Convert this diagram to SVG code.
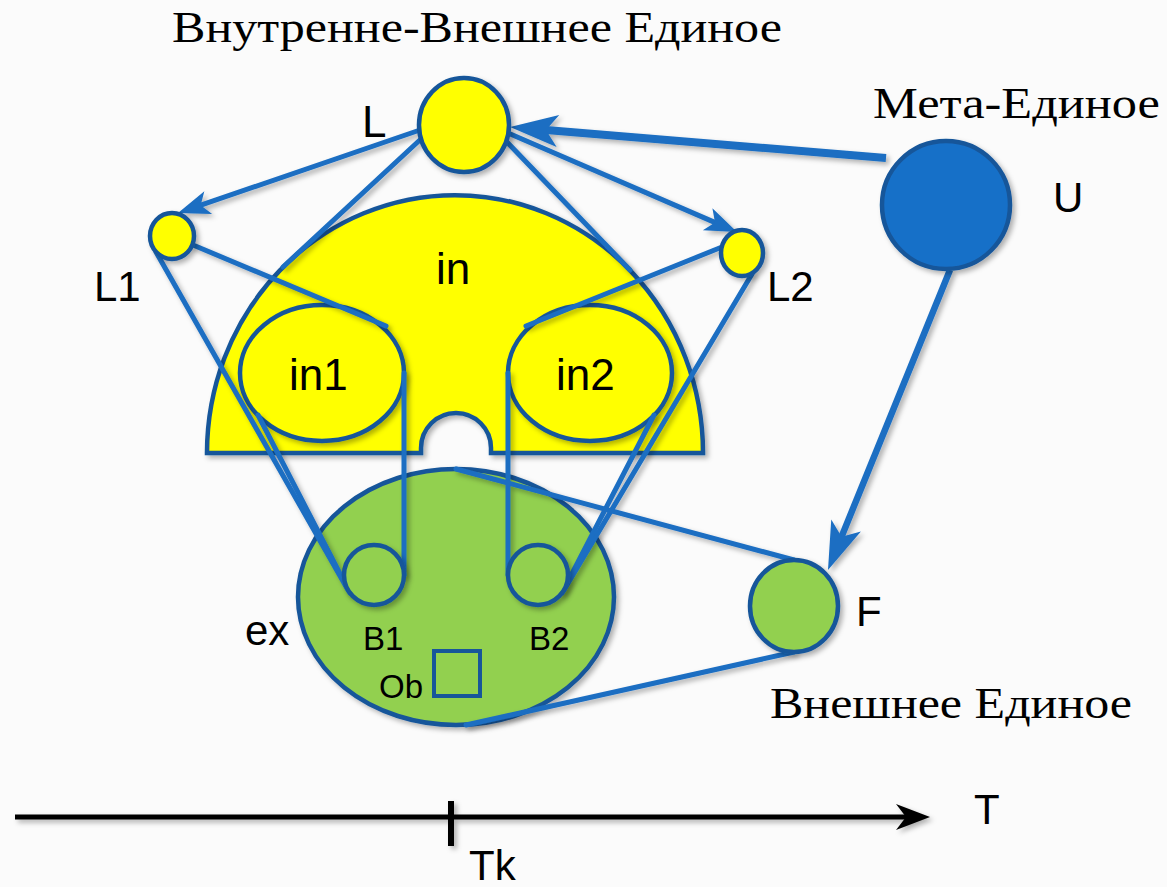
<svg xmlns="http://www.w3.org/2000/svg" width="1167" height="887" viewBox="0 0 1167 887">
<defs>
<style>
.node{stroke:#17569A;stroke-width:4.5}
.yel{fill:#FFFF00}
.grn{fill:#92D050}
.con{stroke:#1B6EC2;stroke-width:5;fill:none;stroke-linecap:round}
.thick{stroke-width:8;stroke-linecap:butt}
.med{stroke-width:6.5;stroke-linecap:butt}
.lbl{font-family:"Liberation Sans",Arial,sans-serif;fill:#000}
.ser{font-family:"Liberation Serif","Times New Roman",serif;fill:#000;font-size:44px}
</style>
<filter id="sh" filterUnits="userSpaceOnUse" x="0" y="0" width="1167" height="887">
<feDropShadow dx="3" dy="3" stdDeviation="2.5" flood-color="#000" flood-opacity="0.3"/>
</filter>
<marker id="ah" viewBox="-34 -14 36 28" refX="-18" refY="0" markerWidth="36" markerHeight="28" markerUnits="userSpaceOnUse" orient="auto">
<path d="M0,0 L-32,-12 L-24,0 L-32,12 Z" fill="#1B6EC2"/>
</marker>
<marker id="ahb" viewBox="-50 -18 52 36" refX="-30" refY="0" markerWidth="52" markerHeight="36" markerUnits="userSpaceOnUse" orient="auto">
<path d="M0,0 L-48,-16 L-36,0 L-48,16 Z" fill="#1B6EC2"/>
</marker>
<marker id="ak" viewBox="-36 -15 38 30" refX="-16" refY="0" markerWidth="38" markerHeight="30" markerUnits="userSpaceOnUse" orient="auto">
<path d="M0,0 L-34,-13 L-24,0 L-34,13 Z" fill="#000"/>
</marker>
</defs>
<rect width="1167" height="887" fill="#FBFBFB"/>

<g id="in" filter="url(#sh)">
<path class="node yel" d="M207,453 A248,258 0 0 1 703,453 L491,453 L491,448 A35,35 0 0 0 421,448 L421,453 Z"/>
</g>
<g id="in1" filter="url(#sh)"><ellipse class="node yel" cx="322" cy="373" rx="82" ry="68"/></g>
<g id="in2" filter="url(#sh)"><ellipse class="node yel" cx="590" cy="373" rx="82" ry="68"/></g>
<g id="ex" filter="url(#sh)"><ellipse class="node grn" cx="456" cy="597" rx="158" ry="128"/></g>
<g id="Ob"><rect x="434" y="651" width="46" height="45" fill="none" stroke="#17569A" stroke-width="4"/></g>

<g id="connectors" filter="url(#sh)">
<line class="con" x1="422" y1="138" x2="283" y2="267"/>
<line class="con" x1="505" y1="140" x2="630" y2="270"/>
<line class="con" x1="193" y1="245" x2="386" y2="326"/>
<line class="con" x1="156" y1="252" x2="348" y2="590"/>
<line class="con" x1="258" y1="415" x2="350" y2="593"/>
<line class="con" x1="404" y1="373" x2="404" y2="575"/>
<line class="con" x1="722" y1="247" x2="526" y2="326"/>
<line class="con" x1="752" y1="274" x2="564" y2="590"/>
<line class="con" x1="654" y1="415" x2="562" y2="593"/>
<line class="con" x1="508" y1="373" x2="508" y2="575"/>
<line class="con" x1="456" y1="469" x2="794" y2="560"/>
<line class="con" x1="466" y1="725" x2="794" y2="652"/>
<line class="con" x1="420" y1="130" x2="195" y2="207.2" marker-end="url(#ah)"/>
<line class="con" x1="508" y1="133" x2="720.5" y2="224.9" marker-end="url(#ah)"/>
<line class="con thick" x1="886" y1="158" x2="540" y2="129.5" marker-end="url(#ahb)"/>
<line class="con med" x1="950" y1="270" x2="839.3" y2="542.2" marker-end="url(#ahb)"/>
</g>

<g id="B1" filter="url(#sh)"><circle class="node grn" cx="374" cy="575" r="30"/></g>
<g id="B2" filter="url(#sh)"><circle class="node grn" cx="538" cy="575" r="30"/></g>
<g id="F" filter="url(#sh)"><ellipse class="node grn" cx="794" cy="606" rx="44" ry="46"/></g>
<g id="L" filter="url(#sh)"><ellipse class="node yel" cx="464" cy="125" rx="45" ry="47"/></g>
<g id="L1" filter="url(#sh)"><ellipse class="node yel" cx="172" cy="236" rx="22" ry="23"/></g>
<g id="L2" filter="url(#sh)"><ellipse class="node yel" cx="742" cy="253" rx="21" ry="23"/></g>
<g id="U" filter="url(#sh)"><circle cx="946" cy="205" r="64" fill="#1470C8" stroke="#17569A" stroke-width="4.5"/></g>

<g id="timeline" filter="url(#sh)">
<line x1="15" y1="817" x2="914" y2="817" stroke="#000" stroke-width="5" marker-end="url(#ak)"/>
<line x1="451" y1="801" x2="451" y2="846" stroke="#000" stroke-width="6"/>
</g>

<g id="labels">
<text class="ser" x="172" y="42" textLength="610" lengthAdjust="spacingAndGlyphs">Внутренне-Внешнее Единое</text>
<text class="ser" x="873" y="118" textLength="287" lengthAdjust="spacingAndGlyphs">Мета-Единое</text>
<text class="ser" x="770" y="718" textLength="362" lengthAdjust="spacingAndGlyphs">Внешнее Единое</text>
<text class="lbl" x="362" y="137" font-size="44">L</text>
<text class="lbl" x="94" y="301" font-size="42">L1</text>
<text class="lbl" x="767" y="301" font-size="42">L2</text>
<text class="lbl" x="1053" y="212" font-size="42">U</text>
<text class="lbl" x="436" y="284" font-size="44">in</text>
<text class="lbl" x="289" y="390" font-size="44">in1</text>
<text class="lbl" x="556" y="390" font-size="44">in2</text>
<text class="lbl" x="245" y="645" font-size="42">ex</text>
<text class="lbl" x="856" y="626" font-size="42">F</text>
<text class="lbl" x="363" y="650" font-size="33">B1</text>
<text class="lbl" x="529" y="650" font-size="33">B2</text>
<text class="lbl" x="379" y="698" font-size="33">Ob</text>
<text class="lbl" x="974" y="824" font-size="42">T</text>
<text class="lbl" x="469" y="880" font-size="42">Tk</text>
</g>
</svg>
